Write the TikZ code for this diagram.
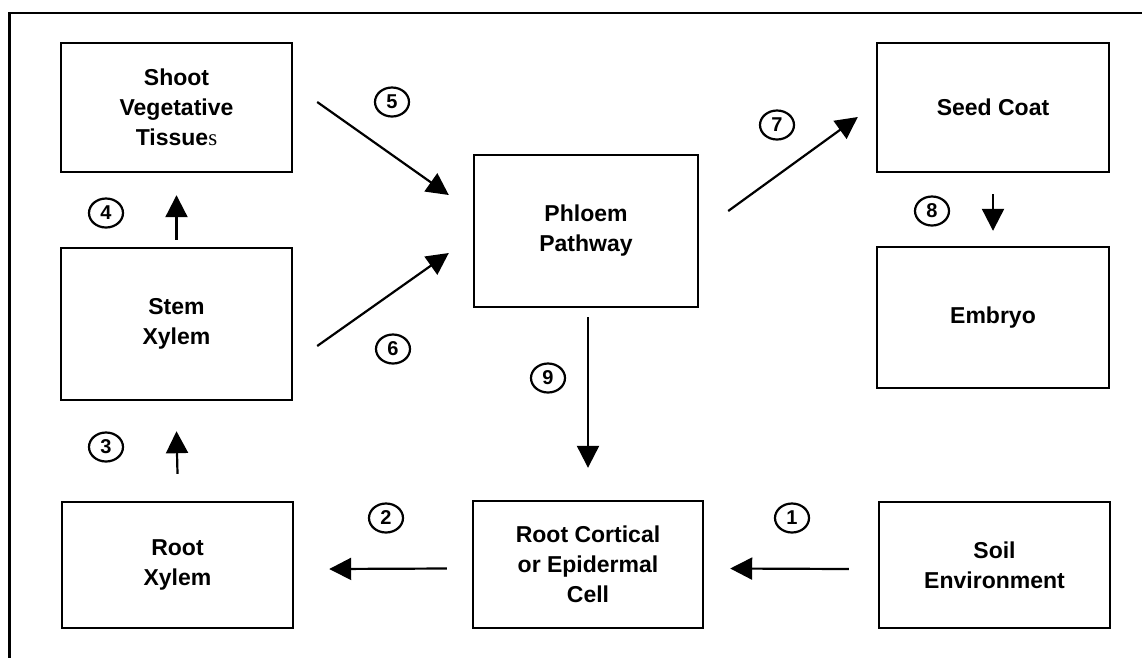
\documentclass[tikz,border=0pt]{standalone}
\usepackage{fontspec}
\setmainfont{Liberation Sans}
\newfontfamily\plainserif{Liberation Serif}
\usetikzlibrary{arrows.meta,shapes.geometric}

\begin{document}
\begin{tikzpicture}[x=1pt,y=-1pt,
    box/.style={draw,line width=2.4pt,align=center,inner sep=0pt,
      font=\fontsize{23}{30}\selectfont\bfseries},
    num/.style={draw,ellipse,line width=2.2pt,inner sep=0pt,
      minimum width=34pt,minimum height=29pt,
      font=\fontsize{20}{20}\selectfont\bfseries},
    arr/.style={line width=2.2pt,-{Triangle[length=22pt,width=22pt]}}]
  \useasboundingbox (0,0) rectangle (1142,657);
  \clip (0,0) rectangle (1142,657);
  \draw[line width=2.6pt] (9.5,13) rectangle (1160,680);

  \node[box,minimum width=231pt,minimum height=129pt] (shoot) at (176.5,107.5)
    {Shoot\\Vegetative\\Tissue{\mdseries\plainserif s}};
  \node[box,minimum width=231pt,minimum height=152pt] (stem) at (176.5,324) {Stem\\Xylem};
  \node[box,minimum width=231pt,minimum height=126pt] (rootx) at (177.5,565) {Root\\Xylem};
  \node[box,minimum width=224pt,minimum height=152pt] (phloem) at (586,231) {Phloem\\Pathway};
  \node[box,minimum width=232pt,minimum height=129pt] (seed) at (993,107.5) {Seed Coat};
  \node[box,minimum width=232pt,minimum height=141pt] (embryo) at (993,317.5) {Embryo};
  \node[box,minimum width=230pt,minimum height=127pt] (cortical) at (588,564.5)
    {Root Cortical\\or Epidermal\\Cell};
  \node[box,minimum width=231pt,minimum height=126pt] (soil) at (994.5,565) {Soil\\Environment};

  \draw[arr] ([xshift=-29pt,yshift=-4pt]soil.west) -- ([xshift=26pt,yshift=-4pt]cortical.east);
  \draw[arr] ([xshift=-25pt,yshift=-4pt]cortical.west) -- ([xshift=35pt,yshift=-4pt]rootx.east);
  \draw[arr] ([yshift=27pt]rootx.north) -- ([yshift=-30pt]stem.south);
  \draw[arr] ([yshift=7pt]stem.north) -- ([yshift=-22pt]shoot.south);
  \draw[arr] ([xshift=24pt,yshift=5.5pt]shoot.east) -- ([xshift=-24pt,yshift=36pt]phloem.west);
  \draw[arr] ([xshift=24pt,yshift=-22pt]stem.east) -- ([xshift=-24pt,yshift=-22pt]phloem.west);
  \draw[arr] ([xshift=29pt,yshift=20pt]phloem.east) -- ([xshift=-18pt,yshift=-9.5pt]seed.west);
  \draw[arr] ([yshift=-21pt]seed.south) -- ([yshift=15pt]embryo.north);
  \draw[arr] ([xshift=2pt,yshift=-9pt]phloem.south) -- ([yshift=32pt]cortical.north);

  \node[num] (n1) at (792,518) {1};
  \node[num] (n2) at (386,518) {2};
  \node[num] (n3) at (106,447) {3};
  \node[num] (n4) at (106,213) {4};
  \node[num] (n5) at (392,102) {5};
  \node[num] (n6) at (393,349) {6};
  \node[num] (n7) at (777,125) {7};
  \node[num] (n8) at (932,211) {8};
  \node[num] (n9) at (548,378) {9};
\end{tikzpicture}
\end{document}
